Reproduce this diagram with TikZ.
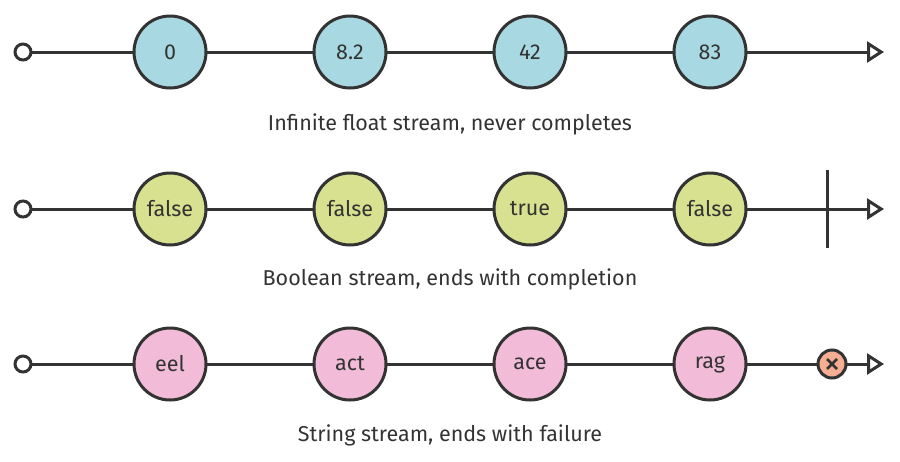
\documentclass[tikz,border=0pt]{standalone}
\usepackage{fontspec}
\setmainfont{Fira Sans}
\usetikzlibrary{arrows.meta}
\definecolor{ink}{HTML}{333333}
\definecolor{valblue}{HTML}{A8D9E3}
\definecolor{valgreen}{HTML}{D7E18F}
\definecolor{valpink}{HTML}{F2BBD7}
\definecolor{errfill}{HTML}{F6AE93}

\begin{document}
\begin{tikzpicture}[x=1pt, y=-1pt,
    line width=3pt, draw=ink,
    every node/.style={font=\fontsize{21.5}{24}\selectfont, text=ink},
    val/.style={circle, draw=ink, minimum size=72pt, inner sep=0, outer sep=0},
    start/.style={circle, draw=ink, fill=white, minimum size=16pt, inner sep=0, outer sep=0},
    err/.style={circle, draw=ink, fill=errfill, minimum size=28pt, inner sep=0, outer sep=0},
    caption/.style={font=\fontsize{21.5}{24}\selectfont},
    time/.style={-{Triangle[open, length=17pt, width=21pt, line width=3pt]}}
  ]
    \useasboundingbox (0,0) rectangle (900,461);

    % float stream
    \node[start] (s1) at (23,52) {};
    \node[val, fill=valblue] (a1) at (170,52) {0};
    \node[val, fill=valblue] (a2) at (350,52) {8.2};
    \node[val, fill=valblue] (a3) at (530,52) {42};
    \node[val, fill=valblue] (a4) at (710,52) {83};
    \coordinate (e1) at (884,52);
    \draw (s1) -- (a1) -- (a2) -- (a3) -- (a4);
    \draw[time] (a4) -- (e1);
    \node[caption] (t1) at (450,124) {Infinite float stream, never completes};

    % boolean stream
    \node[start] (s2) at (23,209) {};
    \node[val, fill=valgreen] (b1) at (170,209) {false};
    \node[val, fill=valgreen] (b2) at (350,209) {false};
    \node[val, fill=valgreen] (b3) at (530,209) {true};
    \node[val, fill=valgreen] (b4) at (710,209) {false};
    \coordinate (done) at (827,209);
    \coordinate (e2) at (884,209);
    \draw (s2) -- (b1) -- (b2) -- (b3) -- (b4);
    \draw[time] (b4) -- (e2);
    \draw ([yshift=39pt]done) -- ([yshift=-39pt]done);
    \node[caption] (t2) at (450,279) {Boolean stream, ends with completion};

    % string stream
    \node[start] (s3) at (23,364) {};
    \node[val, fill=valpink] (c1) at (170,364) {eel};
    \node[val, fill=valpink] (c2) at (350,364) {act};
    \node[val, fill=valpink] (c3) at (530,364) {ace};
    \node[val, fill=valpink] (c4) at (710,364) {rag};
    \node[err] (fail) at (832,364) {};
    \coordinate (e3) at (884,364);
    \draw (s3) -- (c1) -- (c2) -- (c3) -- (c4) -- (fail);
    \draw[time] (fail) -- (e3);
    \draw[line width=2.5pt] ([shift={(-5pt,-5pt)}]fail.center) -- ([shift={(5pt,5pt)}]fail.center)
      ([shift={(-5pt,5pt)}]fail.center) -- ([shift={(5pt,-5pt)}]fail.center);
    \node[caption] (t3) at (450,435) {String stream, ends with failure};
  \end{tikzpicture}
\end{document}
